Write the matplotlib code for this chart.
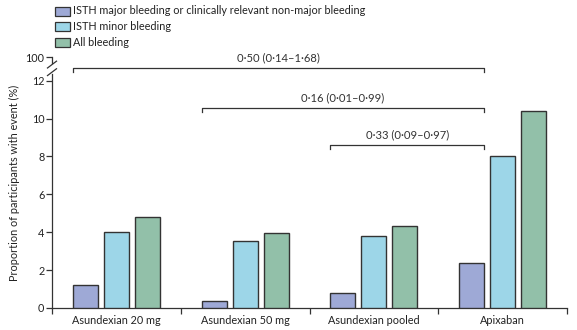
import matplotlib
matplotlib.use("Agg")
import matplotlib.pyplot as plt
from matplotlib.patches import Rectangle
import numpy as np

plt.rcParams['font.family'] = ['Lato', 'DejaVu Sans']

categories = ['Asundexian 20 mg', 'Asundexian 50 mg', 'Asundexian pooled', 'Apixaban']
series_names = ['ISTH major bleeding or clinically relevant non-major bleeding',
                'ISTH minor bleeding', 'All bleeding']
major_crnm = [1.2, 0.37, 0.8, 2.4]
minor = [4.0, 3.55, 3.8, 8.0]
all_bleeding = [4.8, 3.95, 4.35, 10.4]
colors = ['#9ea9d6', '#9dd6e8', '#92c0a9']

# comparisons vs apixaban: (start category, label, bracket height)
comparisons = [(0, '0\u00b750 (0\u00b714\u20131\u00b768)', 12.66),
               (1, '0\u00b716 (0\u00b701\u20130\u00b799)', 10.55),
               (2, '0\u00b733 (0\u00b709\u20130\u00b797)', 8.6)]

ytick_vals = [0, 2, 4, 6, 8, 10, 12]
ytop = 13.25  # where "100" sits after the break

fig = plt.figure(figsize=(5.77, 3.30), dpi=100)
ax = fig.add_axes([52/577, 22/330, 515/577, 251/330])

x = np.arange(len(categories))
w = 0.194
off = 0.24
edge = '#333333'
for k, vals in enumerate([major_crnm, minor, all_bleeding]):
    ax.bar(x + (k - 1) * off, vals, w, color=colors[k], edgecolor=edge, linewidth=1.0, zorder=3)

ax.set_xlim(-0.5, 3.5)
ax.set_ylim(0, ytop)

# brackets
for start, label, yb in comparisons:
    x0 = start - off - w / 2
    x1 = 3 - off + w / 2
    ax.plot([x0, x0, x1, x1], [yb - 0.22, yb, yb, yb - 0.22], color='#333333', lw=0.9, clip_on=False)
    ax.text((x0 + x1) / 2, yb + 0.26, label, ha='center', va='bottom', fontsize=8.1, color='#333333')

# axes styling
for s in ['top', 'right', 'left']:
    ax.spines[s].set_visible(False)
ax.spines['bottom'].set_color('#333333')
ax.spines['bottom'].set_linewidth(0.9)

ax.set_xticks([-0.5, 0.5, 1.5, 2.5, 3.5])
ax.set_xticklabels([])
ax.tick_params(axis='x', which='major', length=4, width=0.9, color='#333333', direction='out')
ax.set_xticks(x, minor=True)
ax.set_xticklabels(categories, minor=True, fontsize=7.8, color='#222222')
ax.tick_params(axis='x', which='minor', length=0, pad=5)

ax.set_yticks(ytick_vals + [ytop])
ax.set_yticklabels([str(v) for v in ytick_vals] + ['100'], fontsize=7.8, color='#222222')
ax.tick_params(axis='y', length=4, width=0.9, color='#333333', direction='out', pad=1.5)

# left spine with break
ax.plot([-0.5, -0.5], [0, 12.35], color='#333333', lw=0.9, clip_on=False)
ax.plot([-0.5, -0.5], [12.95, ytop], color='#333333', lw=0.9, clip_on=False)
for yb in [12.45, 12.85]:
    ax.plot([-0.5 - 0.035, -0.5 + 0.035], [yb - 0.18, yb + 0.18], color='#333333', lw=0.9, clip_on=False)

ax.set_ylabel('Proportion of participants with event (%)', fontsize=7.8, color='#222222', labelpad=4)

# legend
for k, name in enumerate(series_names):
    yc = 330 - (11 + 15.5 * k)
    fig.patches.append(Rectangle((55/577, (yc - 4.5)/330), 15/577, 9/330, transform=fig.transFigure,
                                 facecolor=colors[k], edgecolor=edge, linewidth=0.9))
    fig.text(73/577, yc/330, name, fontsize=7.8, va='center', ha='left', color='#222222')

fig.savefig('out.png', dpi=100)
